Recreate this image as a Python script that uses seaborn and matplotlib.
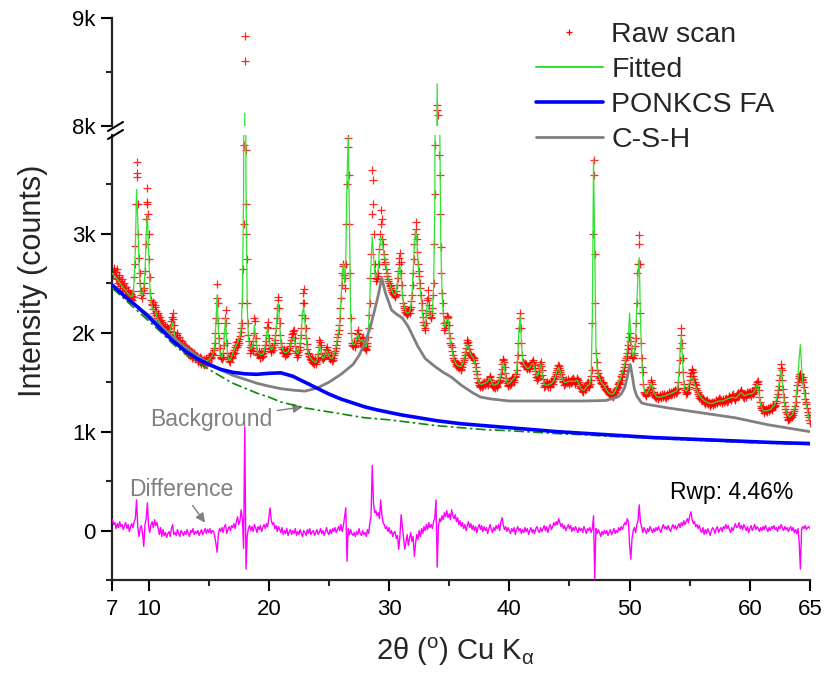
import numpy as np
import matplotlib
matplotlib.use("Agg")
import matplotlib.pyplot as plt
from matplotlib.lines import Line2D
from matplotlib.ticker import FixedLocator, FixedFormatter
import seaborn as sns

# ---------------- data ----------------
two_theta = np.round(np.arange(7.0, 65.0001, 0.1), 1)    # scan grid, 0.1 deg step
two_theta_mid = np.round(np.arange(7.05, 64.96, 0.1), 2)  # intermediate scan steps

raw_rows = [
    [2620, 2660, 2580, 2610, 2540, 2560, 2490, 2520, 2450, 2480],  # 7
    [2420, 2460, 2380, 2410, 2350, 2390, 2330, 2420, 2560, 2880],  # 8
    [3730, 3300, 2760, 2500, 2380, 2400, 2450, 2620, 3150, 3460],  # 9
    [3000, 2560, 2330, 2280, 2240, 2260, 2220, 2150, 2180, 2110],  # 10
    [2130, 2060, 2090, 2030, 2060, 2000, 2040, 1990, 2050, 2120],  # 11
    [2200, 2080, 1980, 1950, 1980, 1900, 1930, 1880, 1900, 1850],  # 12
    [1870, 1820, 1850, 1790, 1830, 1780, 1810, 1760, 1790, 1740],  # 13
    [1770, 1720, 1750, 1700, 1740, 1690, 1730, 1680, 1720, 1700],  # 14
    [1740, 1780, 1760, 1800, 1830, 1900, 2150, 2490, 2100, 1850],  # 15
    [1760, 1730, 1800, 2000, 2230, 1900, 1760, 1710, 1740, 1760],  # 16
    [1790, 1830, 1860, 1910, 1880, 1940, 1970, 2050, 2300, 3100],  # 17
    [8830, 3300, 2300, 1980, 1860, 1830, 1850, 1920, 2150, 1950],  # 18
    [1820, 1780, 1800, 1760, 1790, 1770, 1820, 1880, 1980, 2110],  # 19
    [1950, 1840, 1820, 1850, 1880, 1930, 2050, 2250, 2360, 2100],  # 20
    [1900, 1840, 1810, 1800, 1790, 1830, 1800, 1850, 1900, 1960],  # 21
    [2000, 2030, 1870, 1800, 1780, 1830, 1900, 2050, 2300, 2440],  # 22
    [2150, 1950, 1840, 1790, 1760, 1720, 1740, 1690, 1710, 1680],  # 23
    [1720, 1790, 1930, 1880, 1760, 1730, 1760, 1800, 1860, 1810],  # 24
    [1760, 1730, 1750, 1720, 1780, 1820, 1880, 1960, 2030, 2150],  # 25
    [2350, 2600, 2700, 2450, 2700, 3500, 3970, 3100, 2150, 1900],  # 26
    [1870, 1900, 1860, 1950, 2030, 1960, 1900, 1920, 1960, 1890],  # 27
    [1850, 1830, 1900, 2050, 2300, 2800, 3650, 3300, 2700, 2550],  # 28
    [2540, 2600, 2850, 3240, 3150, 2900, 2750, 2700, 2600, 2540],  # 29
    [2500, 2470, 2430, 2400, 2380, 2360, 2420, 2550, 2700, 2810],  # 30
    [2600, 2380, 2270, 2230, 2200, 2180, 2220, 2200, 2260, 2380],  # 31
    [2600, 2900, 3120, 2950, 2700, 2570, 2450, 2300, 2160, 2080],  # 32
    [2030, 2200, 2430, 2280, 2180, 2160, 2250, 2500, 3400, 6500],  # 33
    [8190, 6000, 3600, 2870, 2400, 2200, 2030, 2080, 2150, 2160],  # 34
    [2000, 1900, 1860, 1780, 1720, 1700, 1660, 1680, 1640, 1660],  # 35
    [1630, 1680, 1720, 1780, 1850, 1930, 1880, 1800, 1780, 1760],  # 36
    [1760, 1720, 1650, 1580, 1500, 1470, 1450, 1480, 1460, 1500],  # 37
    [1480, 1510, 1470, 1530, 1550, 1500, 1450, 1470, 1440, 1480],  # 38
    [1460, 1500, 1520, 1580, 1680, 1730, 1650, 1540, 1490, 1470],  # 39
    [1500, 1480, 1530, 1550, 1520, 1560, 1620, 1780, 2050, 2200],  # 40
    [1900, 1700, 1680, 1690, 1650, 1630, 1660, 1640, 1680, 1700],  # 41
    [1700, 1640, 1580, 1520, 1560, 1640, 1700, 1620, 1530, 1450],  # 42
    [1470, 1500, 1450, 1490, 1460, 1510, 1480, 1530, 1560, 1600],  # 43
    [1640, 1660, 1620, 1580, 1530, 1500, 1480, 1520, 1490, 1530],  # 44
    [1480, 1520, 1500, 1540, 1510, 1490, 1530, 1520, 1480, 1440],  # 45
    [1430, 1400, 1450, 1420, 1470, 1500, 1450, 1480, 1560, 2100],  # 46
    [3750, 2800, 1800, 1620, 1560, 1550, 1500, 1480, 1490, 1450],  # 47
    [1420, 1440, 1400, 1380, 1400, 1360, 1380, 1370, 1400, 1430],  # 48
    [1450, 1500, 1480, 1560, 1580, 1620, 1680, 1750, 1800, 1880],  # 49
    [2000, 1850, 1760, 1750, 1800, 1950, 2300, 2700, 2990, 2200],  # 50
    [1750, 1600, 1400, 1380, 1360, 1420, 1400, 1450, 1520, 1440],  # 51
    [1380, 1360, 1340, 1370, 1330, 1360, 1340, 1380, 1350, 1370],  # 52
    [1340, 1380, 1360, 1400, 1370, 1390, 1410, 1380, 1420, 1400],  # 53
    [1440, 1600, 1850, 2050, 1750, 1480, 1420, 1380, 1400, 1450],  # 54
    [1520, 1590, 1630, 1560, 1500, 1470, 1420, 1380, 1340, 1350],  # 55
    [1320, 1340, 1300, 1290, 1320, 1280, 1300, 1260, 1290, 1270],  # 56
    [1300, 1280, 1320, 1290, 1340, 1300, 1320, 1290, 1330, 1310],  # 57
    [1340, 1300, 1330, 1360, 1320, 1350, 1380, 1340, 1330, 1360],  # 58
    [1390, 1360, 1400, 1420, 1370, 1340, 1380, 1350, 1400, 1380],  # 59
    [1400, 1360, 1410, 1380, 1420, 1450, 1500, 1480, 1350, 1260],  # 60
    [1220, 1250, 1190, 1230, 1200, 1240, 1210, 1250, 1220, 1270],  # 61
    [1250, 1270, 1310, 1380, 1460, 1570, 1680, 1520, 1350, 1260],  # 62
    [1200, 1150, 1120, 1140, 1170, 1150, 1190, 1230, 1300, 1420],  # 63
    [1500, 1560, 1580, 1520, 1550, 1450, 1330, 1280, 1200, 1150],  # 64
    [1090],                                                        # 65
]

# raw counts at the intermediate steps x.05, x.15, ... x.95
raw_mid_rows = [
    [2590, 2630, 2550, 2640, 2500, 2580, 2470, 2540, 2430, 2500],  # 7
    [2450, 2390, 2430, 2370, 2400, 2340, 2370, 2360, 2700, 3300],  # 8
    [3620, 3000, 2600, 2420, 2350, 2430, 2500, 2900, 3320, 3200],  # 9
    [2750, 2400, 2290, 2310, 2200, 2280, 2180, 2200, 2120, 2160],  # 10
    [2080, 2110, 2040, 2070, 2010, 2060, 1990, 2020, 2080, 2160],  # 11
    [2140, 2010, 1930, 2000, 1920, 1960, 1880, 1920, 1860, 1880],  # 12
    [1840, 1860, 1800, 1840, 1770, 1820, 1750, 1800, 1760, 1770],  # 13
    [1740, 1700, 1760, 1680, 1720, 1700, 1670, 1740, 1690, 1720],  # 14
    [1760, 1740, 1790, 1780, 1850, 2000, 2350, 2300, 1950, 1780],  # 15
    [1740, 1760, 1880, 2150, 2100, 1800, 1730, 1700, 1770, 1740],  # 16
    [1810, 1800, 1880, 1860, 1920, 1900, 2010, 2100, 2650, 5500],  # 17
    [8600, 2750, 2100, 1920, 1800, 1880, 1820, 2000, 2120, 1880],  # 18
    [1790, 1820, 1750, 1810, 1760, 1800, 1850, 1920, 2060, 2050],  # 19
    [1880, 1810, 1860, 1830, 1900, 1980, 2150, 2330, 2250, 1980],  # 20
    [1860, 1800, 1840, 1770, 1820, 1790, 1830, 1870, 1930, 1990],  # 21
    [2020, 1950, 1820, 1760, 1810, 1860, 1980, 2180, 2400, 2300],  # 22
    [2050, 1890, 1800, 1770, 1730, 1700, 1720, 1680, 1730, 1700],  # 23
    [1750, 1860, 1910, 1800, 1740, 1760, 1780, 1840, 1830, 1780],  # 24
    [1740, 1760, 1710, 1750, 1800, 1850, 1920, 1990, 2080, 2250],  # 25
    [2480, 2680, 2580, 2550, 3100, 3880, 3600, 2600, 2000, 1880],  # 26
    [1900, 1870, 1900, 2000, 1990, 1930, 1880, 1950, 1920, 1860],  # 27
    [1840, 1870, 1960, 2180, 2550, 3200, 3550, 3000, 2600, 2520],  # 28
    [2570, 2700, 3000, 3100, 2950, 2800, 2720, 2650, 2570, 2520],  # 29
    [2480, 2450, 2410, 2390, 2370, 2390, 2480, 2620, 2760, 2720],  # 30
    [2480, 2300, 2250, 2210, 2190, 2200, 2230, 2240, 2320, 2480],  # 31
    [2750, 3000, 3050, 2820, 2620, 2500, 2380, 2230, 2110, 2050],  # 32
    [2100, 2330, 2350, 2220, 2150, 2200, 2380, 2900, 3900, 7500],  # 33
    [8100, 3800, 3200, 2600, 2300, 2100, 2050, 2110, 2170, 2080],  # 34
    [1950, 1880, 1820, 1750, 1710, 1680, 1670, 1650, 1670, 1620],  # 35
    [1650, 1700, 1750, 1810, 1900, 1910, 1840, 1790, 1770, 1740],  # 36
    [1740, 1690, 1610, 1540, 1490, 1460, 1470, 1450, 1490, 1470],  # 37
    [1500, 1490, 1500, 1560, 1520, 1470, 1460, 1450, 1470, 1450],  # 38
    [1490, 1510, 1550, 1630, 1720, 1700, 1590, 1510, 1460, 1490],  # 39
    [1470, 1510, 1540, 1500, 1550, 1580, 1700, 1900, 2150, 2050],  # 40
    [1780, 1690, 1660, 1680, 1640, 1650, 1630, 1670, 1690, 1720],  # 41
    [1670, 1610, 1550, 1540, 1600, 1680, 1660, 1570, 1490, 1460],  # 42
    [1490, 1470, 1480, 1450, 1490, 1500, 1510, 1540, 1580, 1620],  # 43
    [1670, 1640, 1600, 1550, 1510, 1470, 1500, 1510, 1500, 1510],  # 44
    [1500, 1490, 1530, 1520, 1480, 1510, 1540, 1500, 1460, 1450],  # 45
    [1410, 1430, 1440, 1450, 1490, 1470, 1460, 1520, 1620, 3000],  # 46
    [3600, 2300, 1700, 1590, 1540, 1520, 1490, 1500, 1460, 1430],  # 47
    [1430, 1410, 1390, 1370, 1380, 1370, 1350, 1390, 1420, 1440],  # 48
    [1480, 1490, 1520, 1550, 1610, 1650, 1720, 1770, 1840, 1960],  # 49
    [1920, 1800, 1740, 1780, 1870, 2100, 2600, 2900, 2700, 1900],  # 50
    [1650, 1480, 1390, 1370, 1400, 1390, 1430, 1500, 1480, 1400],  # 51
    [1370, 1350, 1360, 1340, 1350, 1370, 1350, 1360, 1380, 1350],  # 52
    [1360, 1370, 1390, 1380, 1400, 1380, 1400, 1420, 1390, 1430],  # 53
    [1500, 1720, 1980, 1900, 1600, 1440, 1400, 1390, 1430, 1480],  # 54
    [1560, 1620, 1600, 1530, 1480, 1440, 1400, 1360, 1360, 1330],  # 55
    [1330, 1310, 1280, 1310, 1300, 1290, 1280, 1280, 1300, 1290],  # 56
    [1290, 1310, 1300, 1320, 1310, 1330, 1300, 1320, 1300, 1330],  # 57
    [1320, 1310, 1350, 1340, 1330, 1370, 1350, 1320, 1350, 1370],  # 58
    [1370, 1390, 1410, 1390, 1350, 1360, 1370, 1380, 1390, 1400],  # 59
    [1380, 1390, 1390, 1400, 1440, 1480, 1510, 1420, 1300, 1240],  # 60
    [1240, 1210, 1220, 1210, 1220, 1230, 1230, 1240, 1240, 1260],  # 61
    [1260, 1290, 1350, 1420, 1520, 1640, 1620, 1430, 1300, 1230],  # 62
    [1180, 1130, 1130, 1160, 1160, 1170, 1210, 1260, 1360, 1470],  # 63
    [1540, 1580, 1550, 1530, 1500, 1390, 1300, 1240, 1170, 1120],  # 64
]

fit_rows = [
    [2600, 2585, 2570, 2555, 2540, 2525, 2505, 2490, 2470, 2455],
    [2440, 2425, 2410, 2395, 2380, 2370, 2365, 2390, 2520, 2850],
    [3450, 3150, 2700, 2460, 2380, 2380, 2440, 2600, 3000, 3190],
    [2850, 2500, 2320, 2260, 2230, 2230, 2210, 2160, 2130, 2110],
    [2090, 2075, 2060, 2045, 2035, 2025, 2015, 2005, 2020, 2070],
    [2110, 2030, 1960, 1940, 1925, 1910, 1895, 1880, 1870, 1860],
    [1850, 1840, 1830, 1815, 1805, 1795, 1785, 1775, 1765, 1755],
    [1750, 1740, 1735, 1725, 1720, 1715, 1710, 1710, 1715, 1720],
    [1725, 1740, 1755, 1770, 1800, 1870, 2100, 2380, 2050, 1830],
    [1770, 1750, 1790, 1980, 2150, 1880, 1760, 1720, 1730, 1760],
    [1790, 1820, 1850, 1880, 1900, 1930, 1970, 2050, 2350, 3400],
    [8120, 3500, 2280, 1950, 1870, 1840, 1850, 1900, 2080, 1950],
    [1840, 1800, 1790, 1780, 1780, 1785, 1810, 1870, 1980, 2050],
    [1920, 1850, 1830, 1840, 1870, 1920, 2020, 2200, 2300, 2080],
    [1900, 1850, 1820, 1800, 1800, 1805, 1810, 1840, 1880, 1930],
    [1950, 1950, 1860, 1800, 1790, 1820, 1880, 2000, 2200, 2260],
    [2100, 1950, 1840, 1790, 1760, 1740, 1725, 1715, 1705, 1700],
    [1720, 1780, 1870, 1840, 1770, 1740, 1750, 1790, 1820, 1800],
    [1770, 1745, 1740, 1745, 1770, 1810, 1870, 1940, 2010, 2120],
    [2330, 2580, 2700, 2500, 2750, 3550, 3980, 3150, 2200, 1920],
    [1880, 1880, 1890, 1940, 1990, 1950, 1910, 1920, 1930, 1890],
    [1860, 1860, 1920, 2080, 2350, 2700, 2970, 2800, 2620, 2560],
    [2580, 2650, 2850, 2970, 2950, 2850, 2780, 2720, 2640, 2570],
    [2510, 2470, 2440, 2410, 2390, 2380, 2420, 2520, 2640, 2670],
    [2560, 2400, 2300, 2250, 2210, 2200, 2200, 2210, 2260, 2380],
    [2620, 2880, 3040, 2950, 2720, 2560, 2430, 2290, 2170, 2090],
    [2060, 2200, 2300, 2250, 2180, 2160, 2230, 2450, 3300, 6800],
    [8390, 7000, 4300, 2900, 2400, 2200, 2060, 2080, 2130, 2150],
    [2010, 1920, 1850, 1780, 1730, 1700, 1680, 1670, 1660, 1660],
    [1660, 1680, 1720, 1780, 1840, 1880, 1860, 1810, 1780, 1760],
    [1750, 1710, 1650, 1580, 1520, 1490, 1480, 1480, 1480, 1490],
    [1490, 1500, 1510, 1530, 1540, 1510, 1480, 1470, 1470, 1480],
    [1480, 1500, 1530, 1590, 1660, 1700, 1640, 1550, 1500, 1480],
    [1490, 1500, 1520, 1530, 1540, 1560, 1620, 1780, 2030, 2170],
    [1920, 1730, 1680, 1670, 1650, 1640, 1640, 1650, 1670, 1690],
    [1690, 1640, 1590, 1560, 1580, 1640, 1680, 1620, 1540, 1480],
    [1470, 1470, 1470, 1480, 1480, 1490, 1500, 1520, 1550, 1590],
    [1630, 1650, 1620, 1580, 1540, 1510, 1500, 1500, 1500, 1510],
    [1510, 1510, 1510, 1510, 1510, 1510, 1520, 1510, 1480, 1450],
    [1430, 1420, 1420, 1430, 1450, 1470, 1470, 1490, 1560, 2150],
    [3750, 2850, 1850, 1640, 1570, 1540, 1510, 1490, 1480, 1460],
    [1440, 1420, 1400, 1390, 1380, 1380, 1380, 1390, 1410, 1440],
    [1470, 1500, 1530, 1560, 1600, 1640, 1690, 1750, 1820, 1950],
    [2200, 1950, 1800, 1760, 1800, 1950, 2300, 2600, 2760, 2150],
    [1760, 1550, 1430, 1390, 1380, 1400, 1420, 1460, 1490, 1450],
    [1400, 1380, 1360, 1350, 1350, 1350, 1350, 1355, 1360, 1360],
    [1365, 1370, 1375, 1380, 1385, 1390, 1395, 1400, 1405, 1410],
    [1440, 1580, 1820, 1970, 1720, 1500, 1430, 1410, 1420, 1460],
    [1510, 1540, 1550, 1520, 1480, 1450, 1420, 1390, 1370, 1350],
    [1335, 1325, 1315, 1305, 1300, 1295, 1290, 1285, 1285, 1285],
    [1290, 1295, 1300, 1305, 1310, 1310, 1310, 1310, 1315, 1320],
    [1325, 1330, 1335, 1340, 1340, 1345, 1350, 1345, 1340, 1345],
    [1360, 1375, 1390, 1395, 1380, 1365, 1365, 1370, 1375, 1380],
    [1385, 1380, 1385, 1395, 1410, 1440, 1480, 1460, 1350, 1270],
    [1230, 1215, 1210, 1210, 1210, 1215, 1220, 1225, 1235, 1255],
    [1260, 1280, 1320, 1390, 1460, 1550, 1630, 1500, 1360, 1270],
    [1220, 1180, 1160, 1150, 1160, 1170, 1190, 1230, 1300, 1430],
    [1550, 1750, 1880, 1650, 1500, 1420, 1330, 1270, 1200, 1140],
    [1080],
]

diff_rows = [
    [110, 60, 80, 20, 70, 30, 90, 40, 60, 10],
    [50, 80, 20, 60, -10, 40, 70, 30, 90, 120],
    [310, 40, -60, 20, 50, -30, -160, 60, 120, 280],
    [40, -20, 60, 90, 30, 110, 50, 80, 20, -40],
    [30, -60, 10, -50, -20, -70, -30, -10, -60, 20],
    [60, -40, -20, -50, 10, -30, -60, 0, -20, -50],
    [-10, -40, 10, -30, -60, 0, -20, 20, -40, -10],
    [-30, 0, -50, -20, 10, -40, -10, 20, -30, 10],
    [-20, 20, -30, 0, -10, -60, -130, -220, -40, 20],
    [-10, 30, -20, 40, 60, -30, 10, 40, 0, 50],
    [30, 70, 20, 90, 140, 60, 100, 210, 120, -180],
    [1050, -390, -60, 20, 50, 0, 40, -10, 60, 30],
    [-20, 40, 10, 50, -10, 30, 60, 20, 70, 40],
    [130, 230, 110, 60, 80, 20, 50, -10, 40, 10],
    [-20, 30, -40, 0, -30, 20, -50, -10, 10, -40],
    [0, -30, 20, -50, -10, -40, 10, -30, -60, 0],
    [-20, -50, 10, -30, 20, -40, -10, 0, -50, -20],
    [10, -40, -20, 20, -30, 0, -50, -10, 30, -20],
    [-40, 10, -30, 20, -10, 30, -20, 10, 40, 0],
    [60, -10, 50, 140, 230, -310, 20, -40, 10, -30],
    [-50, -20, -60, -10, -40, 20, -30, -50, 0, -40],
    [-20, -60, 10, -30, 80, 150, 660, 280, 180, 200],
    [150, 180, 120, 310, 160, 80, 60, 20, 40, -10],
    [30, -30, 0, -60, -20, -10, -80, -50, -190, -60],
    [160, 40, -80, -190, -120, -40, -150, -80, -20, -110],
    [-60, -260, -130, -40, -90, 0, -60, 20, -30, 40],
    [0, 60, 10, 80, 30, 60, 20, 90, 130, 310],
    [-370, 40, 120, 90, 150, 110, 180, 140, 200, 130],
    [170, 110, 210, 150, 120, 160, 90, 130, 60, 100],
    [40, 80, 20, 60, 0, 50, 90, 30, 70, 10],
    [50, 0, 40, -20, 30, 60, 10, 50, -10, 40],
    [0, 30, -30, 20, 60, 10, -20, 30, 0, 50],
    [20, 60, 0, 90, 130, 50, 10, 40, -10, 30],
    [0, -30, 20, -10, 30, -40, 10, 40, 0, 20],
    [-30, 10, -20, 30, -10, 20, -40, 0, 30, -20],
    [10, -30, 20, 40, 0, -20, 30, -10, 20, 50],
    [0, 40, -20, 30, 60, 10, 40, 80, 50, 90],
    [60, 120, 80, 40, 70, 20, 50, 0, 30, 60],
    [20, 50, -10, 30, 0, 40, 10, -20, 30, 0],
    [20, -20, 40, 10, -30, 20, 0, 30, -20, 20],
    [150, -490, 20, -30, 10, -20, -60, -10, -40, 0],
    [-30, 0, -50, -20, 10, -40, -10, 20, -30, 0],
    [-20, 30, 0, 40, 10, 50, 80, 60, 120, 90],
    [-150, -290, -80, 0, 30, -20, 60, 100, 260, 80],
    [40, -20, 30, 0, -30, 20, -10, 40, 10, -20],
    [20, -10, 30, 0, 40, 10, -20, 30, 60, 20],
    [40, 10, 50, 20, -10, 30, 60, 20, 50, 10],
    [40, 70, 30, 80, 50, 100, 60, 90, 120, 80],
    [150, 190, 110, 70, 90, 40, 60, 20, 50, 0],
    [-20, 30, -40, 10, -30, 20, -10, -50, 0, 30],
    [10, -30, 20, 40, -20, 10, 30, -10, 40, 20],
    [60, 20, 50, 10, -20, 30, 0, 40, 70, 30],
    [40, 80, 20, 50, 10, 60, 30, 0, 40, -20],
    [20, 50, 0, 30, 60, 10, 40, 20, -10, 30],
    [0, 40, 10, 50, 20, -10, 30, 0, 40, 20],
    [50, 10, 30, -10, 40, 20, 60, 30, 0, 40],
    [10, 30, -10, 20, 40, 0, 30, -20, 10, -30],
    [20, -120, -390, 10, 40, 20, 50, 10, 30, 40],
    [20],
]

# a few more raw points read on the steepest peak flanks
raw_extra_x = [9.02, 9.83, 17.93, 18.08, 18.12, 34.02]
raw_extra_y = [3580, 3300, 3900, 3850, 3000, 8150]

bg_x = [7, 8, 9, 10, 11, 12, 13, 14, 15, 16, 17, 18, 19, 20, 21, 22, 23, 24, 26,
        28, 30, 32, 34, 36, 38, 40, 42, 44, 46, 48, 50, 55, 60, 65]
bg_y = [2450, 2340, 2230, 2120, 2010, 1890, 1790, 1710, 1630, 1560, 1490, 1440,
        1390, 1350, 1300, 1270, 1240, 1220, 1180, 1140, 1120, 1090, 1060, 1040,
        1020, 1010, 995, 980, 970, 955, 945, 915, 890, 870]

fa_x = [7, 8, 9, 10, 11, 12, 13, 14, 15, 16, 17, 18, 19, 20, 21, 22, 23, 24, 25,
        26, 27, 28, 29, 30, 31, 32, 33, 34, 35, 36, 38, 40, 42, 44, 46, 48, 50,
        52, 54, 56, 58, 60, 62, 65]
fa_y = [2480, 2370, 2270, 2160, 2040, 1920, 1820, 1740, 1680, 1630, 1600, 1585,
        1580, 1590, 1595, 1560, 1500, 1440, 1380, 1330, 1290, 1250, 1220, 1195,
        1170, 1150, 1130, 1110, 1095, 1080, 1060, 1040, 1020, 1000, 985, 970,
        955, 940, 930, 920, 910, 900, 890, 880]

csh_x = [7, 8, 9, 10, 11, 12, 13, 14, 15, 16, 17, 18, 19, 20, 21, 22, 23, 24, 25,
         26, 27, 27.5, 28, 28.4, 28.8, 29.1, 29.3, 29.4, 29.5, 29.7, 30.0, 30.2,
         30.6, 31.1, 31.6, 32.0, 32.4, 33.0, 33.8, 34.5, 35.2, 36, 37, 37.6,
         38.5, 40, 42, 44, 46, 48, 49, 49.3, 49.6, 49.8, 50.0, 50.05, 50.2, 50.4,
         50.6, 51, 51.5, 52, 53.2, 56, 58.8, 61.5, 65]
csh_y = [2480, 2370, 2270, 2180, 2070, 1960, 1860, 1770, 1690, 1625, 1570, 1530,
         1490, 1460, 1435, 1420, 1410, 1440, 1500, 1580, 1680, 1770, 1900, 2040,
         2230, 2380, 2500, 2550, 2500, 2400, 2300, 2230, 2190, 2150, 2060, 1960,
         1860, 1740, 1660, 1600, 1550, 1470, 1390, 1350, 1330, 1310, 1310, 1310,
         1310, 1315, 1350, 1380, 1450, 1550, 1670, 1680, 1580, 1430, 1360, 1290,
         1275, 1265, 1240, 1190, 1140, 1070, 1000]

x_ticks = [7, 10, 20, 30, 40, 50, 60, 65]
x_tick_labels = ["7", "10", "20", "30", "40", "50", "60", "65"]
low_ticks = [0, 1000, 2000, 3000]
low_tick_labels = ["0", "1k", "2k", "3k"]
up_ticks = [8000, 9000]
up_tick_labels = ["8k", "9k"]

# -------------- assemble --------------
raw = np.concatenate([np.array(r, float) for r in raw_rows])
raw_mid = np.concatenate([np.array(r, float) for r in raw_mid_rows])
fitted = np.concatenate([np.array(r, float) for r in fit_rows])
diff = np.concatenate([np.array(r, float) for r in diff_rows])
assert len(raw) == len(two_theta) == len(fitted) == len(diff)
assert len(raw_mid) == len(two_theta_mid)

raw_x_all = np.concatenate([two_theta, two_theta_mid, raw_extra_x])
raw_y_all = np.concatenate([raw, raw_mid, raw_extra_y])
order = np.argsort(raw_x_all)
raw_x_all, raw_y_all = raw_x_all[order], raw_y_all[order]

# -------------- style --------------
sns.set_theme(style="ticks")
plt.rcParams["font.family"] = ["Liberation Sans", "DejaVu Sans"]
plt.rcParams["mathtext.fontset"] = "custom"
plt.rcParams["mathtext.rm"] = "Liberation Sans"
plt.rcParams["mathtext.it"] = "Liberation Sans:italic"
plt.rcParams["axes.linewidth"] = 1.5

W, H = 828, 675
fig = plt.figure(figsize=(W / 100, H / 100), dpi=100)
fig.patch.set_facecolor("white")

def fx(px):
    return px / W

def fy(py):
    return 1 - py / H

ax_lo = fig.add_axes([fx(112.5), fy(580), fx(810) - fx(112.5), fy(135) - fy(580)])
ax_hi = fig.add_axes([fx(112.5), fy(126), fx(810) - fx(112.5), fy(18) - fy(126)])

C_RAW = "#ff0000"
C_FIT = "#33e033"
C_FA = "#0000ff"
C_CSH = "#808080"
C_BG = "#0a8a0a"
C_DIFF = "#ff00ff"

for ax in (ax_lo, ax_hi):
    ax.set_facecolor("white")
    sns.scatterplot(x=raw_x_all, y=raw_y_all, marker="+", color=C_RAW, s=34,
                    linewidth=0.9, alpha=0.85, ax=ax, zorder=2, legend=False)
    sns.lineplot(x=two_theta, y=fitted, color=C_FIT, linewidth=0.9, ax=ax,
                 estimator=None, sort=False, zorder=3)
    ax.set_xlim(7, 65)

sns.lineplot(x=bg_x, y=bg_y, color=C_BG, linewidth=1.2, ax=ax_lo,
             estimator=None, sort=False, zorder=4, linestyle=(0, (6, 2, 1.5, 2)))
sns.lineplot(x=csh_x, y=csh_y, color=C_CSH, linewidth=2.0, ax=ax_lo,
             estimator=None, sort=False, zorder=5)
sns.lineplot(x=fa_x, y=fa_y, color=C_FA, linewidth=2.6, ax=ax_lo,
             estimator=None, sort=False, zorder=6)
sns.lineplot(x=two_theta, y=diff, color=C_DIFF, linewidth=1.0, ax=ax_lo,
             estimator=None, sort=False, zorder=3)

ax_lo.set_ylim(-500, 4000)
ax_hi.set_ylim(8000, 9000)

for ax in (ax_lo, ax_hi):
    ax.set_xlabel("")
    ax.set_ylabel("")
    for s in ("top", "right"):
        ax.spines[s].set_visible(False)
    ax.spines["left"].set_linewidth(1.6)
    ax.spines["bottom"].set_linewidth(1.6)
    ax.tick_params(axis="both", which="major", direction="out", length=8,
                   width=1.5, labelsize=16, pad=4, colors="black")
    ax.tick_params(axis="both", which="minor", direction="out", length=4.5,
                   width=1.5)

ax_hi.spines["bottom"].set_visible(False)
ax_hi.tick_params(axis="x", which="both", bottom=False, labelbottom=False)
ax_hi.yaxis.set_major_locator(FixedLocator(up_ticks))
ax_hi.yaxis.set_major_formatter(FixedFormatter(up_tick_labels))
ax_hi.yaxis.set_minor_locator(FixedLocator([8500]))

ax_lo.xaxis.set_major_locator(FixedLocator(x_ticks))
ax_lo.xaxis.set_major_formatter(FixedFormatter(x_tick_labels))
ax_lo.xaxis.set_minor_locator(FixedLocator([15, 25, 35, 45, 55]))
ax_lo.yaxis.set_major_locator(FixedLocator(low_ticks))
ax_lo.yaxis.set_major_formatter(FixedFormatter(low_tick_labels))
ax_lo.yaxis.set_minor_locator(FixedLocator([-500, 500, 1500, 2500, 3500]))
ax_lo.tick_params(axis="x", which="major", pad=6)

# axis-break marks
for (x0, y0, x1, y1) in [(108, 131, 123, 122), (108, 139, 123, 130)]:
    fig.add_artist(Line2D([fx(x0), fx(x1)], [fy(y0), fy(y1)],
                          transform=fig.transFigure, color="black", lw=1.5))

# annotations
ax_lo.annotate("Background", xy=(22.8, 1250), xytext=(20.3, 1120),
               ha="right", va="center", fontsize=16.5, color="#808080",
               arrowprops=dict(arrowstyle="-|>", color="#808080", lw=1.0,
                               mutation_scale=14, shrinkA=1, shrinkB=0))
ax_lo.annotate("Difference", xy=(14.7, 80), xytext=(12.7, 414),
               ha="center", va="center", fontsize=16.5, color="#808080",
               arrowprops=dict(arrowstyle="-|>", color="#808080", lw=1.0,
                               mutation_scale=14, shrinkA=1, shrinkB=0))
ax_lo.text(53.4, 384, "Rwp: 4.46%", fontsize=16.5, ha="left", va="center",
           color="black")

# axis labels
fig.text(fx(33), fy(281), "Intensity (counts)", rotation=90, fontsize=22,
         ha="center", va="center")
fig.text(fx(455), fy(652), r"2θ ($^{\mathregular{o}}$) Cu K$_{\mathregular{α}}$",
         fontsize=21, ha="center", va="center")

# legend
handles = [
    Line2D([], [], marker="+", color=C_RAW, linestyle="None", markersize=5,
           markeredgewidth=0.9),
    Line2D([], [], color=C_FIT, lw=1.5),
    Line2D([], [], color=C_FA, lw=2.6),
    Line2D([], [], color=C_CSH, lw=2.0),
]
labels = ["Raw scan", "Fitted", "PONKCS FA", "C-S-H"]
fig.legend(handles, labels, loc="upper left",
           bbox_to_anchor=(fx(536), fy(22)), frameon=False, fontsize=20.5,
           handlelength=2.35, handletextpad=0.3, labelspacing=0.32,
           borderpad=0, borderaxespad=0)

fig.savefig("out.png", dpi=100, facecolor="white")
